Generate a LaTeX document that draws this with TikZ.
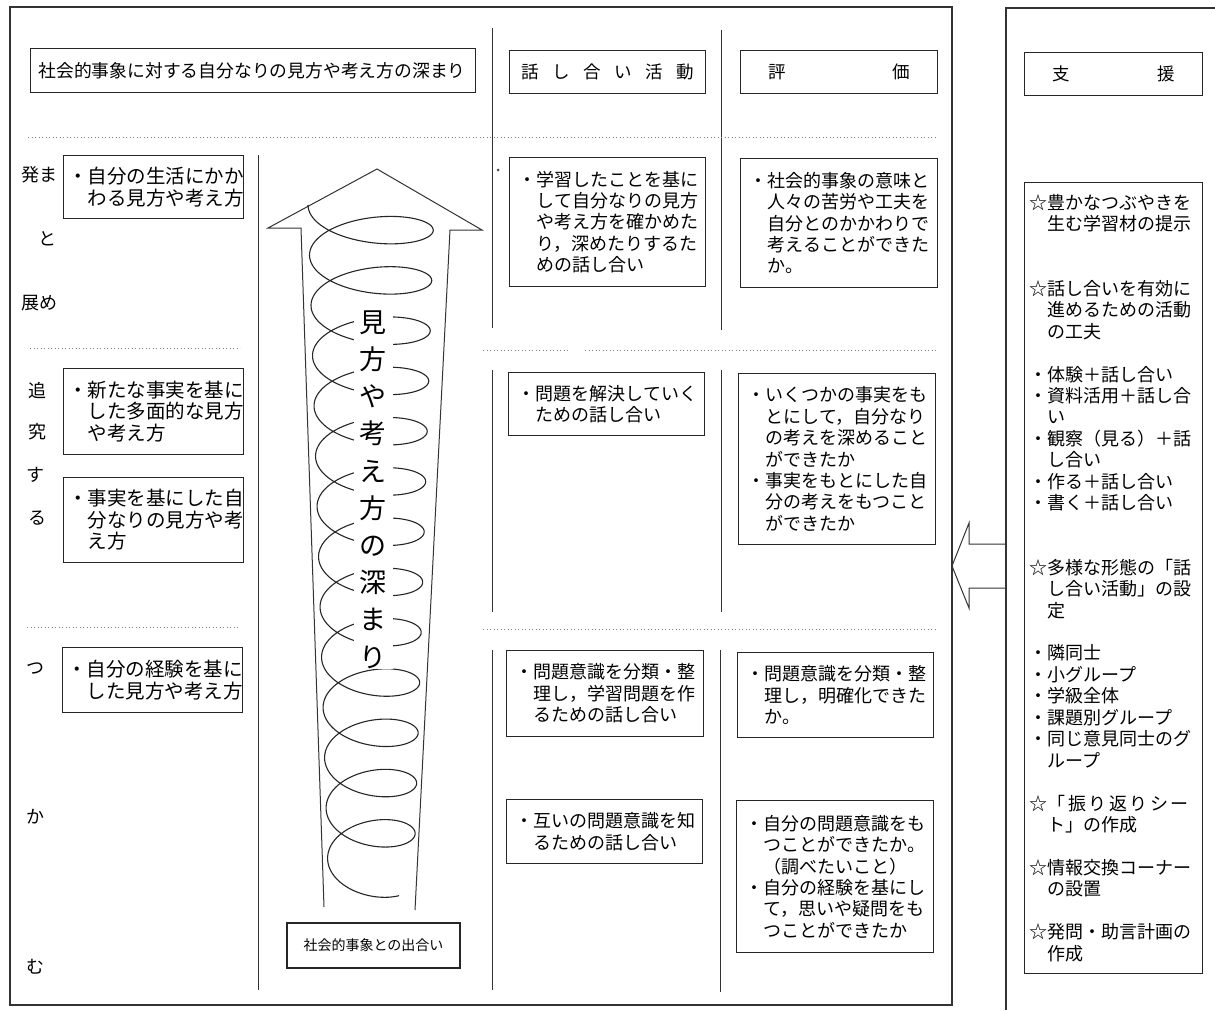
\documentclass[tikz,border=0pt]{standalone}
\usepackage{fontspec}
\setmainfont{Noto Sans CJK JP}
\newcommand\Ind{\hspace*{1em}}
\newcommand\gp{\hspace{13.6pt}}
\begin{document}
\begin{tikzpicture}[x=1pt,y=-1pt,
  ln/.style={line width=1pt, draw=black!80},
  frame/.style={line width=1.3pt, draw=black!80},
  dotl/.style={line width=0.9pt, draw=black!50, dash pattern=on 1.2pt off 2.3pt},
  bx/.style={draw=black!85, line width=1.1pt, anchor=north west, align=left, inner ysep=0pt},
  hdr/.style={draw=black!85, line width=1.1pt, anchor=north west, align=center, inner sep=0pt, font=\fontsize{17.5pt}{21pt}\selectfont},
  fl/.style={font=\fontsize{19.5pt}{21.5pt}\selectfont, inner xsep=4.5pt, text width=171pt},
  fm/.style={font=\fontsize{18pt}{21.4pt}\selectfont, inner xsep=9pt},
  lab/.style={font=\fontsize{18pt}{20pt}\selectfont, inner sep=0pt}
]
\useasboundingbox (0,0) rectangle (1215,1010);
\fill[white] (0,0) rectangle (1215,1010);

% panels
\draw[frame] (10,7) rectangle (952,1005);
\draw[frame] (1215,8) -- (1006,8) -- (1006,1010);

% column rules
\draw[ln] (492,28) -- (492,328) (492,370) -- (492,612) (492,650) -- (492,990);
\draw[ln] (721,30) -- (721,330) (721,370) -- (721,612) (720,650) -- (720,992);
\draw[ln] (258,155) -- (258,990);

% dotted separators
\draw[dotl] (28,137) -- (937,137);
\draw[dotl] (30,348) -- (240,348) (483,350) -- (570,350) (585,350) -- (937,350);
\draw[dotl] (27,627) -- (240,627) (483,629) -- (935,629);

% headers
\node[bx, font=\fontsize{17.8pt}{21pt}\selectfont, minimum width=445pt, minimum height=44pt, inner xsep=8pt, text width=429pt] (h1) at (30,48) {社会的事象に対する自分なりの見方や考え方の深まり};
\node[hdr, minimum width=196pt, minimum height=43pt] (h2) at (509,50) {話\gp し\gp 合\gp い\gp 活\gp 動};
\node[hdr, minimum width=197pt, minimum height=43pt] (h3) at (740,50) {評\hspace{107pt}価};
\node[hdr, minimum width=178pt, minimum height=43pt] (h4) at (1024,52) {支\hspace{88pt}援};

% stage labels
\node[lab] (s1) at (39,175) {発ま};
\node[lab] (s2) at (47,239) {と};
\node[lab] (s3) at (39,303) {展め};
\node[lab] (s4) at (37,391) {追};
\node[lab] (s5) at (37,432) {究};
\node[lab] (s6) at (36,475) {す};
\node[lab] (s7) at (37,518) {る};
\node[lab] (s8) at (36,669) {つ};
\node[lab] (s9) at (35,817) {か};
\node[lab] (s10) at (35,967) {む};

% left column boxes
\node[bx, fl, minimum width=180pt, minimum height=63pt] (bA) at (63,155) {・自分の生活にかか\\\Ind わる見方や考え方};
\node[bx, fl, minimum width=180pt, minimum height=86pt] (bB) at (63,368) {・新たな事実を基に\\\Ind した多面的な見方\\\Ind や考え方};
\node[bx, fl, minimum width=180pt, minimum height=85pt] (bC) at (63,477) {・事実を基にした自\\\Ind 分なりの見方や考\\\Ind え方};
\node[bx, fl, minimum width=179pt, minimum height=65pt] (bD) at (62,647) {・自分の経験を基に\\\Ind した見方や考え方};

% discussion column
\node[bx, fm, minimum width=196pt, minimum height=129pt, text width=178pt] (mA) at (509,157) {・学習したことを基に\\\Ind して自分なりの見方\\\Ind や考え方を確かめた\\\Ind り，深めたりするた\\\Ind めの話し合い};
\node[bx, fm, minimum width=196pt, minimum height=63pt, text width=178pt] (mB) at (508,372) {・問題を解決していく\\\Ind ための話し合い};
\node[bx, fm, minimum width=197pt, minimum height=86pt, text width=179pt] (mC) at (506,650) {・問題意識を分類・整\\\Ind 理し，学習問題を作\\\Ind るための話し合い};
\node[bx, fm, minimum width=196pt, minimum height=64pt, text width=178pt] (mD) at (506,799) {・互いの問題意識を知\\\Ind るための話し合い};

% evaluation column
\node[bx, fm, minimum width=197pt, minimum height=129pt, text width=179pt] (eA) at (740,158) {・社会的事象の意味と\\\Ind 人々の苦労や工夫を\\\Ind 自分とのかかわりで\\\Ind 考えることができた\\\Ind か。};
\node[bx, fm, minimum width=197pt, minimum height=171pt, text width=179pt] (eB) at (738,373) {・いくつかの事実をも\\\Ind とにして，自分なり\\\Ind の考えを深めること\\\Ind ができたか\\・事実をもとにした自\\\Ind 分の考えをもつこと\\\Ind ができたか};
\node[bx, fm, minimum width=196pt, minimum height=85pt, text width=178pt] (eC) at (737,652) {・問題意識を分類・整\\\Ind 理し，明確化できた\\\Ind か。};
\node[bx, fm, minimum width=197pt, minimum height=152pt, text width=179pt] (eD) at (736,800) {・自分の問題意識をも\\\Ind つことができたか。\\\Ind （調べたいこと）\\・自分の経験を基にし\\\Ind て，思いや疑問をも\\\Ind つことができたか};

% support box
\node[bx, font=\fontsize{18pt}{21.45pt}\selectfont, inner xsep=5pt, text width=168pt, minimum width=178pt, minimum height=791pt] (sp) at (1024,182) {☆豊かなつぶやきを\\\Ind 生む学習材の提示\\[42.9pt]☆話し合いを有効に\\\Ind 進めるための活動\\\Ind の工夫\\[21.45pt]・体験＋話し合い\\・資料活用＋話し合\\\Ind い\\・観察（見る）＋話\\\Ind し合い\\・作る＋話し合い\\・書く＋話し合い\\[42.9pt]☆多様な形態の「話\\\Ind し合い活動」の設\\\Ind 定\\[21.45pt]・隣同士\\・小グループ\\・学級全体\\・課題別グループ\\・同じ意見同士のグ\\\Ind ループ\\[21.45pt]☆「\hspace{2.5pt}振\hspace{2.5pt}り\hspace{2.5pt}返\hspace{2.5pt}り\hspace{2.5pt}シ\hspace{2.5pt}ー\\\Ind ト」の作成\\[21.45pt]☆情報交換コーナー\\\Ind の設置\\[21.45pt]☆発問・助言計画の\\\Ind 作成};

% stray mark
\node[circle, fill=black!70, inner sep=0pt, minimum size=3pt] (dot) at (498,170) {};

% big up arrow
\coordinate (upTip) at (377,169);
\draw[ln, line join=miter] (324,907) -- (301,228) -- (268,228) -- (upTip) -- (482,230) -- (450,230) -- (415,910);

% spiral
\draw[line width=1.1pt, black!85] plot[variable=\t, domain=0:83.98, samples=1500] ({371-(63-0.24*\t)*cos(\t r)}, {205+8*\t+25*sin(\t r)});

% vertical text
\node[fill=white, inner xsep=6pt, inner ysep=1pt, align=center, font=\fontsize{27pt}{37.2pt}\selectfont] (vt) at (373,489.5) {見\\方\\や\\考\\え\\方\\の\\深\\ま\\り};

% encounter box
\node[draw=black!85, line width=1.1pt, minimum width=173pt, minimum height=45pt, inner sep=0pt, font=\fontsize{14pt}{16pt}\selectfont] (enc) at (373.5,945.5) {社会的事象との出合い};

% left-pointing block arrow from support panel
\coordinate (arTip) at (952,566);
\draw[ln, line join=miter] (arTip) -- ++(17,-43) -- ++(0,21) -- ++(37,0);
\draw[ln, line join=miter] (arTip) -- ++(17,42) -- ++(0,-20) -- ++(37,0);
\end{tikzpicture}
\end{document}
